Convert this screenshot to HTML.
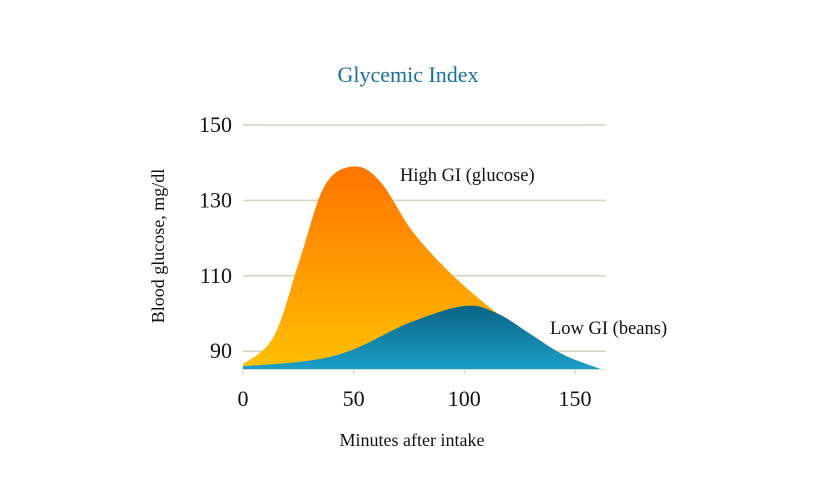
<!DOCTYPE html>
<html><head><meta charset="utf-8"><style>
html,body{margin:0;padding:0;background:#fff;}
svg{display:block;font-family:"Liberation Serif",serif;}
</style></head><body>
<svg id="chart" width="835" height="500" viewBox="0 0 835 500">
<defs>
<linearGradient id="og" x1="0" y1="0" x2="0" y2="1"><stop offset="0" stop-color="#ff7400"/><stop offset="1" stop-color="#ffc000"/></linearGradient>
<linearGradient id="bg" x1="0" y1="0" x2="0" y2="1"><stop offset="0" stop-color="#0c6485"/><stop offset="1" stop-color="#1a9fca"/></linearGradient>
</defs>
<text x="408" y="82" text-anchor="middle" font-size="22" fill="#1b6f9c">Glycemic Index</text>
<g id="grid"></g><g id="areas"></g><g id="ticks"></g>
<text x="412" y="446" text-anchor="middle" font-size="18" fill="#111">Minutes after intake</text>
<text transform="translate(164,246) rotate(-90)" text-anchor="middle" font-size="18" fill="#111">Blood glucose, mg/dl</text>
<text x="400" y="181" font-size="18.5" fill="#111">High GI (glucose)</text>
<text x="550" y="334" font-size="18.5" fill="#111">Low GI (beans)</text>
</svg>
<script>
const yTicks=[90,110,130,150];
const xTicks=[0,50,100,150];
const highX=[0,14,26,37,50,62,77,95,115,130,145,163];
const highY=[86.5,94,115,134,139,135,121.5,110,100,94.5,89,85];
const lowX=[0,30,50,75,100,115,130,145,163];
const lowY=[86,87.5,90.5,97.5,102,100,94.5,89,85];
const NS="http://www.w3.org/2000/svg";
const sx=v=>243+v*2.213, sy=v=>125+(150-v)*3.77;
const base=85.2;
function mk(t,a,p){const e=document.createElementNS(NS,t);for(const k in a)e.setAttribute(k,a[k]);p.appendChild(e);return e;}
const grid=document.getElementById('grid'),ticks=document.getElementById('ticks'),areas=document.getElementById('areas');
yTicks.forEach(v=>{
 const l=mk('line',{x1:243,x2:606,y1:sy(v),y2:sy(v),stroke:'#d6d3bd','stroke-width':1.5},grid);
 
 
 const t=mk('text',{x:232,y:sy(v)+7,'text-anchor':'end','font-size':22,fill:'#111'},ticks);
 t.textContent=v;
 
 
});
xTicks.forEach(v=>{
 mk('line',{x1:sx(v),x2:sx(v),y1:sy(base),y2:sy(base)+5,stroke:'#ccc'},ticks);
 const t=mk('text',{x:sx(v),y:406,'text-anchor':'middle','font-size':22,fill:'#111'},ticks);
 t.textContent=v;
 
 
});
function path(xs,ys){
 const p=xs.map((x,i)=>[sx(x),sy(ys[i])]);
 let d='M'+sx(xs[0])+','+sy(base)+' L'+p[0][0]+','+p[0][1];
 for(let i=0;i<p.length-1;i++){
  const p0=p[i-1]||p[i],p1=p[i],p2=p[i+1],p3=p[i+2]||p2;
  d+=' C'+(p1[0]+(p2[0]-p0[0])/6)+','+(p1[1]+(p2[1]-p0[1])/6)+' '+(p2[0]-(p3[0]-p1[0])/6)+','+(p2[1]-(p3[1]-p1[1])/6)+' '+p2[0]+','+p2[1];
 }
 return d+' L'+sx(xs[xs.length-1])+','+sy(base)+' Z';
}
const h=mk('path',{d:path(highX,highY),fill:'url(#og)'},areas);


const lo=mk('path',{d:path(lowX,lowY),fill:'url(#bg)'},areas);


</script>
</body></html>
